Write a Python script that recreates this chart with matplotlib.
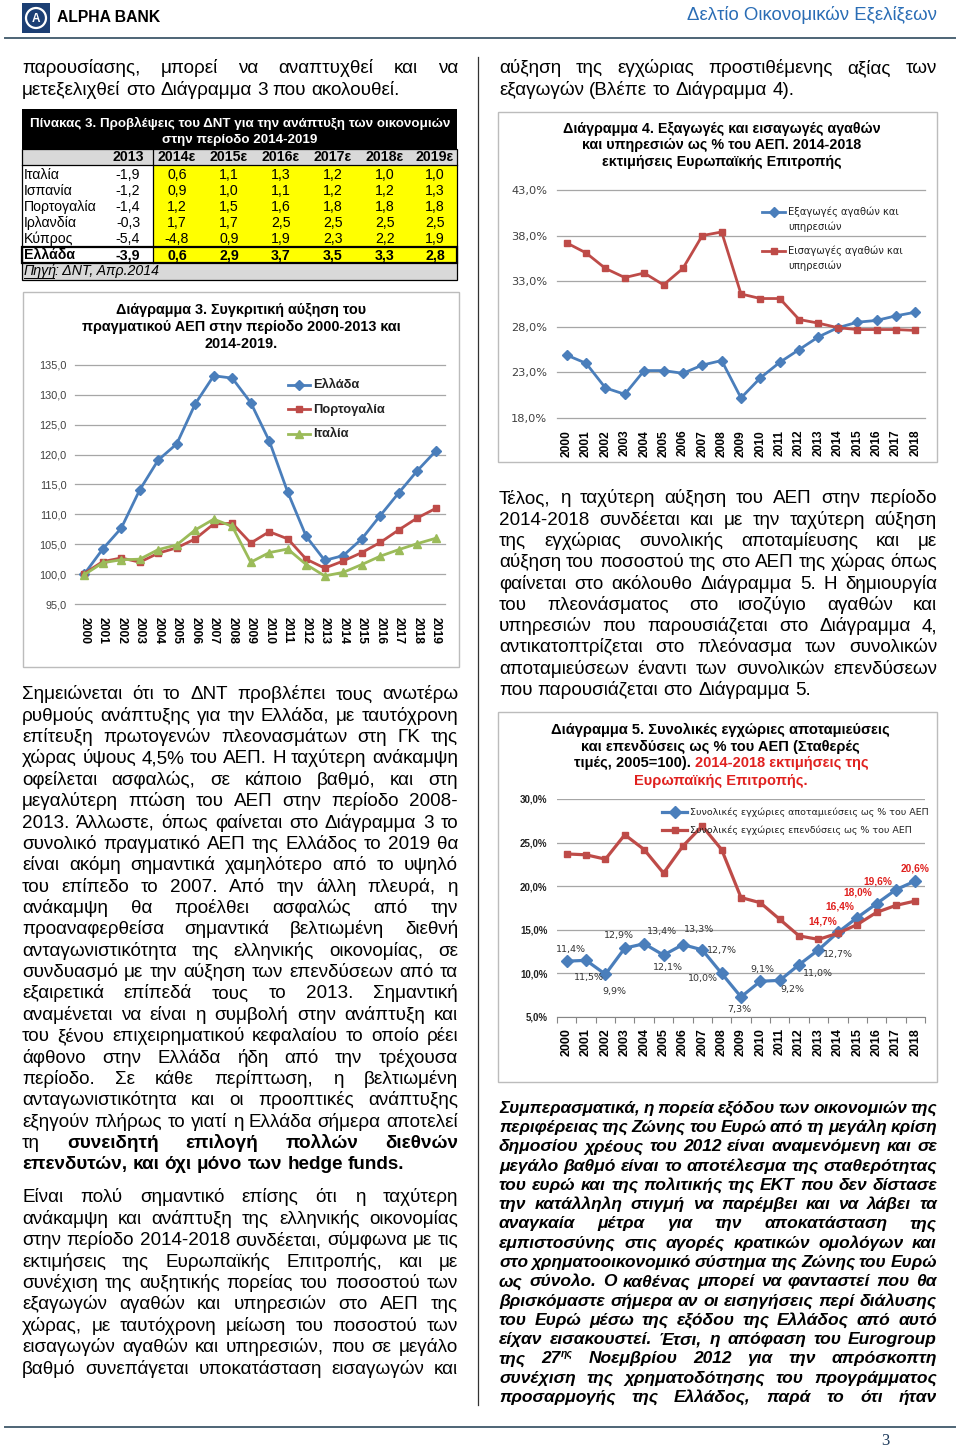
import numpy as np
import matplotlib
matplotlib.use("Agg")
import matplotlib.pyplot as plt
from matplotlib import font_manager
from matplotlib.patches import Rectangle, Ellipse
from matplotlib.lines import Line2D

# ---------------- data ----------------
years20 = [str(y) for y in range(2000, 2020)]
greece = [100.0, 104.2, 107.7, 114.1, 119.1, 121.8, 128.5, 133.2, 132.8, 128.7,
          122.3, 113.7, 106.3, 102.3, 103.1, 105.9, 109.8, 113.6, 117.3, 120.6]
portugal = [100.1, 102.1, 102.7, 102.0, 103.5, 104.4, 105.9, 108.4, 108.5, 105.2,
            107.1, 105.9, 102.5, 101.0, 102.2, 103.6, 105.3, 107.4, 109.4, 111.0]
italy = [99.9, 101.9, 102.4, 102.5, 104.1, 104.9, 107.4, 109.2, 108.0, 102.0,
         103.6, 104.2, 101.6, 99.7, 100.3, 101.6, 103.0, 104.1, 105.1, 106.0]

years19 = [str(y) for y in range(2000, 2019)]
exports = [24.9, 24.0, 21.3, 20.6, 23.2, 23.2, 22.9, 23.8, 24.3, 20.2,
           22.4, 24.1, 25.5, 26.9, 27.9, 28.5, 28.7, 29.2, 29.6]
imports = [37.2, 36.1, 34.4, 33.4, 33.9, 32.6, 34.4, 38.0, 38.4, 31.6,
           31.1, 31.1, 28.8, 28.4, 27.9, 27.7, 27.7, 27.7, 27.6]

savings = [11.4, 11.5, 9.9, 12.9, 13.4, 12.1, 13.3, 12.7, 10.0, 7.3,
           9.1, 9.2, 11.0, 12.7, 14.7, 16.4, 18.0, 19.6, 20.6]
investment = [23.7, 23.6, 23.1, 25.9, 24.2, 21.5, 24.6, 26.9, 24.2, 18.7,
              18.1, 16.2, 14.3, 13.9, 14.6, 15.6, 17.0, 17.8, 18.3]
# label offsets (pixels) for the savings data labels
sav_dx = [4, 3, 9, -6, 18, 4, 16, 20, -19, -2, 2, 13, 19, 19, -15, -17, -19, -18, 0]
sav_dy = [12, -17, -17, 13, 12, -12, 15, -1, -5, -13, 12, -9, -9, -5, 11, 11, 11, 8, 12]

tbl_cols = ["2013", "2014ε", "2015ε", "2016ε", "2017ε", "2018ε", "2019ε"]
tbl_rows = ["Ιταλία", "Ισπανία", "Πορτογαλία", "Ιρλανδία", "Κύπρος", "Ελλάδα"]
tbl_vals = [[-1.9, 0.6, 1.1, 1.3, 1.2, 1.0, 1.0],
            [-1.2, 0.9, 1.0, 1.1, 1.2, 1.2, 1.3],
            [-1.4, 1.2, 1.5, 1.6, 1.8, 1.8, 1.8],
            [-0.3, 1.7, 1.7, 2.5, 2.5, 2.5, 2.5],
            [-5.4, -4.8, 0.9, 1.9, 2.3, 2.2, 1.9],
            [-3.9, 0.6, 2.9, 3.7, 3.5, 3.3, 2.8]]

left_top = ["παρουσίασης, μπορεί να αναπτυχθεί και να",
            "μετεξελιχθεί στο Διάγραμμα 3 που ακολουθεί."]
right_top = ["αύξηση της εγχώριας προστιθέμενης αξίας των",
             "εξαγωγών (Βλέπε το Διάγραμμα 4)."]
left_p1 = [
    "Σημειώνεται ότι το ΔΝΤ προβλέπει τους ανωτέρω",
    "ρυθμούς ανάπτυξης για την Ελλάδα, με ταυτόχρονη",
    "επίτευξη πρωτογενών πλεονασμάτων στη ΓΚ της",
    "χώρας ύψους 4,5% του ΑΕΠ. Η ταχύτερη ανάκαμψη",
    "οφείλεται ασφαλώς, σε κάποιο βαθμό, και στη",
    "μεγαλύτερη πτώση του ΑΕΠ στην περίοδο 2008-",
    "2013. Άλλωστε, όπως φαίνεται στο Διάγραμμα 3 το",
    "συνολικό πραγματικό ΑΕΠ της Ελλάδος το 2019 θα",
    "είναι ακόμη σημαντικά χαμηλότερο από το υψηλό",
    "του επίπεδο το 2007. Από την άλλη πλευρά, η",
    "ανάκαμψη θα προέλθει ασφαλώς από την",
    "προαναφερθείσα σημαντικά βελτιωμένη διεθνή",
    "ανταγωνιστικότητα της ελληνικής οικονομίας, σε",
    "συνδυασμό με την αύξηση των επενδύσεων από τα",
    "εξαιρετικά επίπεδά τους το 2013. Σημαντική",
    "αναμένεται να είναι η συμβολή στην ανάπτυξη και",
    "του ξένου επιχειρηματικού κεφαλαίου το οποίο ρέει",
    "άφθονο στην Ελλάδα ήδη από την τρέχουσα",
    "περίοδο. Σε κάθε περίπτωση, η βελτιωμένη",
    "ανταγωνιστικότητα και οι προοπτικές ανάπτυξης",
    "εξηγούν πλήρως το γιατί η Ελλάδα σήμερα αποτελεί",
    "τη *συνειδητή *επιλογή *πολλών *διεθνών",
    "*επενδυτών, *και *όχι *μόνο *των *hedge *funds.",
]
left_p2 = [
    "Είναι πολύ σημαντικό επίσης ότι η ταχύτερη",
    "ανάκαμψη και ανάπτυξη της ελληνικής οικονομίας",
    "στην περίοδο 2014-2018 συνδέεται, σύμφωνα με τις",
    "εκτιμήσεις της Ευρωπαϊκής Επιτροπής, και με",
    "συνέχιση της αυξητικής πορείας του ποσοστού των",
    "εξαγωγών αγαθών και υπηρεσιών στο ΑΕΠ της",
    "χώρας, με ταυτόχρονη μείωση του ποσοστού των",
    "εισαγωγών αγαθών και υπηρεσιών, που σε μεγάλο",
    "βαθμό συνεπάγεται υποκατάσταση εισαγωγών και",
]
right_p1 = [
    "Τέλος, η ταχύτερη αύξηση του ΑΕΠ στην περίοδο",
    "2014-2018 συνδέεται και με την ταχύτερη αύξηση",
    "της εγχώριας συνολικής αποταμίευσης και με",
    "αύξηση του ποσοστού της στο ΑΕΠ της χώρας όπως",
    "φαίνεται στο ακόλουθο Διάγραμμα 5. Η δημιουργία",
    "του πλεονάσματος στο ισοζύγιο αγαθών και",
    "υπηρεσιών που παρουσιάζεται στο Διάγραμμα 4,",
    "αντικατοπτρίζεται στο πλεόνασμα των συνολικών",
    "αποταμιεύσεων έναντι των συνολικών επενδύσεων",
    "που παρουσιάζεται στο Διάγραμμα 5.",
]
right_p2 = [
    "Συμπερασματικά, η πορεία εξόδου των οικονομιών της",
    "περιφέρειας της Ζώνης του Ευρώ από τη μεγάλη κρίση",
    "δημοσίου χρέους του 2012 είναι αναμενόμενη και σε",
    "μεγάλο βαθμό είναι το αποτέλεσμα της σταθερότητας",
    "του ευρώ και της πολιτικής της ΕΚΤ που δεν δίστασε",
    "την κατάλληλη στιγμή να παρέμβει και να λάβει τα",
    "αναγκαία μέτρα για την αποκατάσταση της",
    "εμπιστοσύνης στις αγορές κρατικών ομολόγων και",
    "στο χρηματοοικονομικό σύστημα της Ζώνης του Ευρώ",
    "ως σύνολο. Ο καθένας μπορεί να φανταστεί που θα",
    "βρισκόμαστε σήμερα αν οι εισηγήσεις περί διάλυσης",
    "του Ευρώ μέσω της εξόδου της Ελλάδος από αυτό",
    "είχαν εισακουστεί. Έτσι, η απόφαση του Eurogroup",
    "της 27^ης Νοεμβρίου 2012 για την απρόσκοπτη",
    "συνέχιση της χρηματοδότησης του προγράμματος",
    "προσαρμογής της Ελλάδος, παρά το ότι ήταν",
]

# ---------------- setup ----------------
W, H = 960, 1450
SANS = ["Liberation Sans", "DejaVu Sans"]
names = {f.name for f in font_manager.fontManager.ttflist}
NARROW = ["Liberation Sans Narrow", "DejaVu Sans"] if "Liberation Sans Narrow" in names else SANS
SMALL = ["DejaVu Sans"]
BLUE = "#4a7ebb"
RED = "#be4b48"
GREEN = "#9bbb59"
GRID = "#a6a6a6"

fig = plt.figure(figsize=(W / 100, H / 100), dpi=100)
R = fig.canvas.get_renderer()


def put(x, y, s, **kw):
    kw.setdefault("family", SANS)
    return fig.text(x / W, 1 - y / H, s, **kw)


def wid(t):
    return t.get_window_extent(R).width


def fit(s, width, **kw):
    t = put(0, 0, s, fontsize=10, **kw)
    w = wid(t)
    t.remove()
    return 10 * width / w


def rect(x0, y0, x1, y1, **kw):
    fig.add_artist(Rectangle((x0 / W, 1 - y1 / H), (x1 - x0) / W, (y1 - y0) / H,
                             transform=fig.transFigure, **kw))


def hline(x0, x1, y, **kw):
    fig.add_artist(Line2D([x0 / W, x1 / W], [1 - y / H] * 2, transform=fig.transFigure, **kw))


def vline(x, y0, y1, **kw):
    fig.add_artist(Line2D([x / W] * 2, [1 - y0 / H, 1 - y1 / H], transform=fig.transFigure, **kw))


def ax_px(x0, y0, x1, y1):
    return fig.add_axes([x0 / W, 1 - y1 / H, (x1 - x0) / W, (y1 - y0) / H])


def text_line(x0, x1, yb, s, size, style="normal", justify=True):
    items = []
    for w in s.split():
        bold = w.startswith("*")
        w = w.lstrip("*")
        base, _, sup = w.partition("^")
        wt = "bold" if (bold or style == "italic") else "normal"
        t = put(0, yb, base, fontsize=size, weight=wt, style=style, va="baseline")
        ts = None
        if sup:
            ts = put(0, yb - size * 0.5, sup, fontsize=size * 0.6, weight=wt, style=style, va="baseline")
        items.append((t, ts, wid(t), wid(ts) if ts else 0))
    total = sum(a + b for _, _, a, b in items)
    n = len(items)
    # shrink a line that would not fit with a minimal word gap
    if justify and n > 1 and total + (n - 1) * 3.5 > x1 - x0:
        for t, ts, _, _ in items:
            t.remove()
            if ts:
                ts.remove()
        return text_line(x0, x1, yb, s, size * (x1 - x0 - (n - 1) * 3.5) / total, style, justify)
    if justify and n > 1:
        gap = (x1 - x0 - total) / (n - 1)
    else:
        gap = 0.278 * size * 100 / 72
    x = x0
    for t, ts, a, b in items:
        t.set_x(x / W)
        if ts:
            ts.set_x((x + a) / W)
        x += a + b + gap


def paragraph(x0, x1, yc, step, lines, size, style="normal", last_left=True):
    for i, s in enumerate(lines):
        just = not (last_left and i == len(lines) - 1)
        text_line(x0, x1, yc + i * step + size * 0.47, s, size, style, just)


def fmt(v, pct=False):
    s = f"{v:.1f}".replace(".", ",")
    return s + "%" if pct else s


# ---------------- page frame ----------------
rect(22, 3, 50, 33, color="#1c3f74", lw=0)
fig.add_artist(Ellipse((36 / W, 1 - 18 / H), 20 / W, 20 / H, transform=fig.transFigure,
                       fill=False, ec="white", lw=1.6))
put(36, 19, "Α", color="white", weight="bold", fontsize=8.5, ha="center", va="center")
put(57, 17, "ALPHA BANK", weight="bold", va="center",
    fontsize=fit("ALPHA BANK", 103, weight="bold"))
hs = "Δελτίο Οικονομικών Εξελίξεων"
put(937, 15, hs, family=NARROW, color="#2a6db5", ha="right", va="center",
    fontsize=fit(hs, 251, family=NARROW))
hline(5, 955, 38, color="#4d6475", lw=1.4)
hline(5, 955, 1427, color="#4d6475", lw=1.4)
vline(478, 57, 1405, color="#333333", lw=0.9)
put(885, 1441, "3", family=["Liberation Serif", "DejaVu Serif"], fontsize=12,
    color="#1f3b5c", ha="center", va="center")

BODY = 13.6
paragraph(22, 458, 67, 21.3, left_top, BODY)
paragraph(499, 937, 67, 21.3, right_top, BODY)
paragraph(22, 458, 693, 21.36, left_p1, BODY)
paragraph(22, 458, 1196, 21.4, left_p2, BODY, last_left=False)
paragraph(499, 937, 497, 21.3, right_p1, BODY)
paragraph(499, 937, 1107, 19.27, right_p2, 12.5, style="italic", last_left=False)

# ---------------- table ----------------
rect(22, 109, 457, 149, color="black", lw=0)
tt1 = "Πίνακας 3. Προβλέψεις του ΔΝΤ για την ανάπτυξη των οικονομιών"
ts_ = fit(tt1, 418, weight="bold")
put(240, 123, tt1, color="white", weight="bold", fontsize=ts_, ha="center", va="center")
put(240, 140, "στην περίοδο 2014-2019", color="white", weight="bold", fontsize=ts_,
    ha="center", va="center")
rect(22, 149, 457, 165, color="#d9d9d9", lw=0)
rect(153, 165, 457, 263, color="#ffff00", lw=0)
rect(22, 263, 457, 280, color="#d9d9d9", lw=0)
rect(22, 149, 457, 280, fill=False, ec="black", lw=0.9)
hline(22, 457, 165, color="black", lw=0.9)
vline(153, 149, 263, color="black", lw=0.9)
rect(22, 247, 457, 263, fill=False, ec="black", lw=1.6)
col_x = [128, 177, 229, 281, 333, 385, 435]
row_y = [175, 191, 207, 223, 239, 255]
TS = 10.2
for cx, c in zip(col_x, tbl_cols):
    put(cx, 157, c, weight="bold", fontsize=TS, ha="center", va="center")
for ry, name, vals in zip(row_y, tbl_rows, tbl_vals):
    wt = "bold" if name == "Ελλάδα" else "normal"
    put(24, ry, name, weight=wt, fontsize=TS, va="center")
    for cx, v in zip(col_x, vals):
        put(cx, ry, fmt(v), weight=wt, fontsize=TS, ha="center", va="center")
put(24, 271, "Πηγή", style="italic", fontsize=TS, va="center")
hline(24, 54, 278, color="black", lw=0.7)
put(55, 271, ": ΔΝΤ, Απρ.2014", style="italic", fontsize=TS, va="center")

# ---------------- chart 3 ----------------
rect(23, 292, 459, 667, fill=False, ec="#bcbcbc", lw=1)
c3 = ["Διάγραμμα 3. Συγκριτική αύξηση του",
      "πραγματικού ΑΕΠ στην περίοδο 2000-2013 και",
      "2014-2019."]
s3 = fit(c3[1], 318, weight="bold")
for i, s in enumerate(c3):
    put(241, 310 + i * 17, s, weight="bold", fontsize=s3, ha="center", va="center")

ax3 = ax_px(75, 365, 445, 604)
x20 = np.arange(len(years20))
l_gr, = ax3.plot(x20, greece, color=BLUE, lw=2.0, marker="D", ms=5)
l_pt, = ax3.plot(x20, portugal, color=RED, lw=2.0, marker="s", ms=4.5)
l_it, = ax3.plot(x20, italy, color=GREEN, lw=2.0, marker="^", ms=5.5)
ax3.set_xlim(-0.5, len(years20) - 0.5)
ax3.set_ylim(95, 135)
ax3.set_yticks(np.arange(95, 136, 5))
ax3.set_yticklabels([fmt(v) for v in np.arange(95, 136, 5)], fontsize=7.8,
                    color="#404040", family=SANS)
ax3.set_xticks(x20)
ax3.set_xticklabels(years20, rotation=-90, fontsize=8.7, weight="bold", family=SANS)
ax3.tick_params(length=0)
ax3.tick_params(axis="x", pad=9.5)
ax3.tick_params(axis="y", pad=6)
ax3.grid(axis="y", color=GRID, lw=0.9, clip_on=False)
ax3.set_axisbelow(True)
for sp in ax3.spines.values():
    sp.set_visible(False)


def legend_item(x0, x1, y, line, label, size, family, weight, yoff=0):
    hline(x0, x1, y, color=line.get_color(), lw=line.get_linewidth())
    fig.add_artist(Line2D([(x0 + x1) / 2 / W], [1 - y / H], marker=line.get_marker(),
                          ms=line.get_markersize(), color=line.get_color(),
                          transform=fig.transFigure))
    for k, part in enumerate(label.split("\n")):
        put(x1 + 3, y + k * yoff, part, fontsize=size, family=family, weight=weight,
            va="center", color="#222222")


for y, ln, lab in zip([385, 409, 434], [l_gr, l_pt, l_it], ["Ελλάδα", "Πορτογαλία", "Ιταλία"]):
    legend_item(288, 310, y, ln, lab, 9.3, SANS, "bold")

# ---------------- chart 4 ----------------
rect(498, 112, 937, 462, fill=False, ec="#bcbcbc", lw=1)
c4 = ["Διάγραμμα 4. Εξαγωγές και εισαγωγές αγαθών",
      "και υπηρεσιών ως % του ΑΕΠ. 2014-2018",
      "εκτιμήσεις Ευρωπαϊκής Επιτροπής"]
s4 = fit(c4[0], 317, weight="bold")
for i, s in enumerate(c4):
    put(722, 129 + i * 16.5, s, weight="bold", fontsize=s4, ha="center", va="center")

ax4 = ax_px(557, 190, 925, 418)
x19 = np.arange(len(years19))
l_ex, = ax4.plot(x19, exports, color=BLUE, lw=2.0, marker="D", ms=5)
l_im, = ax4.plot(x19, imports, color=RED, lw=2.0, marker="s", ms=4.5)
ax4.set_xlim(-0.5, len(years19) - 0.5)
ax4.set_ylim(18, 43)
t4 = np.arange(18, 44, 5)
ax4.set_yticks(t4)
ax4.set_yticklabels([fmt(v, True) for v in t4], fontsize=8.2, color="#404040", family=SMALL)
ax4.set_xticks(x19)
ax4.set_xticklabels(years19, rotation=90, fontsize=8.6, weight="bold", family=SANS)
ax4.tick_params(length=0)
ax4.tick_params(axis="x", pad=8.5)
ax4.tick_params(axis="y", pad=7)
ax4.grid(axis="y", color=GRID, lw=0.9, clip_on=False)
ax4.set_axisbelow(True)
for sp in ax4.spines.values():
    sp.set_visible(False)
legend_item(762, 785, 212, l_ex, "Εξαγωγές αγαθών και\nυπηρεσιών", 7.2, SMALL, "normal", 15)
legend_item(762, 785, 251, l_im, "Εισαγωγές αγαθών και\nυπηρεσιών", 7.2, SMALL, "normal", 15)

# ---------------- chart 5 ----------------
rect(498, 712, 937, 1082, fill=False, ec="#bcbcbc", lw=1)
c5a = "Διάγραμμα 5. Συνολικές εγχώριες αποταμιεύσεις"
s5 = fit(c5a, 335, weight="bold")
put(720, 730, c5a, weight="bold", fontsize=s5, ha="center", va="center")
put(720, 747, "και επενδύσεις ως % του ΑΕΠ (Σταθερές", weight="bold", fontsize=s5,
    ha="center", va="center")
TRED = "#e0201e"
pa = put(0, 763, "τιμές, 2005=100). ", weight="bold", fontsize=s5, va="center")
pb = put(0, 763, "2014-2018 εκτιμήσεις της", weight="bold", fontsize=s5, va="center", color=TRED)
wa, wb = wid(pa), wid(pb)
pa.set_x((721 - (wa + wb) / 2) / W)
pb.set_x((721 - (wa + wb) / 2 + wa) / W)
put(721, 781, "Ευρωπαϊκής Επιτροπής.", weight="bold", fontsize=s5, ha="center",
    va="center", color=TRED)

ax5 = ax_px(557, 799, 925, 1017)
l_sv, = ax5.plot(x19, savings, color=BLUE, lw=2.3, marker="D", ms=6)
l_iv, = ax5.plot(x19, investment, color=RED, lw=2.3, marker="s", ms=4.5)
ax5.set_xlim(-0.5, len(years19) - 0.5)
ax5.set_ylim(5, 30)
t5 = np.arange(5, 31, 5)
ax5.set_yticks(t5)
ax5.set_yticklabels([fmt(v, True) for v in t5], fontsize=7.0, weight="bold",
                    color="#222222", family=SANS)
ax5.set_xticks(x19)
ax5.set_xticklabels(years19, rotation=90, fontsize=9, weight="bold", family=SANS)
ax5.set_xticks(np.arange(-0.5, len(years19)), minor=True)
ax5.tick_params(axis="both", which="major", length=0)
ax5.tick_params(axis="x", which="minor", length=4, color="#868686", width=0.8)
ax5.tick_params(axis="x", pad=8)
ax5.tick_params(axis="y", pad=7)
ax5.grid(axis="y", color=GRID, lw=0.9)
ax5.set_axisbelow(True)
for k, sp in ax5.spines.items():
    sp.set_visible(k == "bottom")
ax5.spines["bottom"].set_color("#868686")
for i, v in enumerate(savings):
    red = i >= 14
    ax5.annotate(fmt(v, True), (x19[i], v), xytext=(sav_dx[i], sav_dy[i]),
                 textcoords="offset pixels", ha="center", va="center",
                 fontsize=7.3 if red else 6.8, weight="bold" if red else "normal",
                 color=TRED if red else "#333333", family=SANS if red else SMALL)
legend_item(662, 687, 812, l_sv, "Συνολικές εγχώριες αποταμιεύσεις ως % του ΑΕΠ", 6.8, SMALL, "normal")
legend_item(662, 687, 830, l_iv, "Συνολικές εγχώριες επενδύσεις ως % του ΑΕΠ", 6.8, SMALL, "normal")

fig.savefig("out.png", dpi=100, facecolor="white")
